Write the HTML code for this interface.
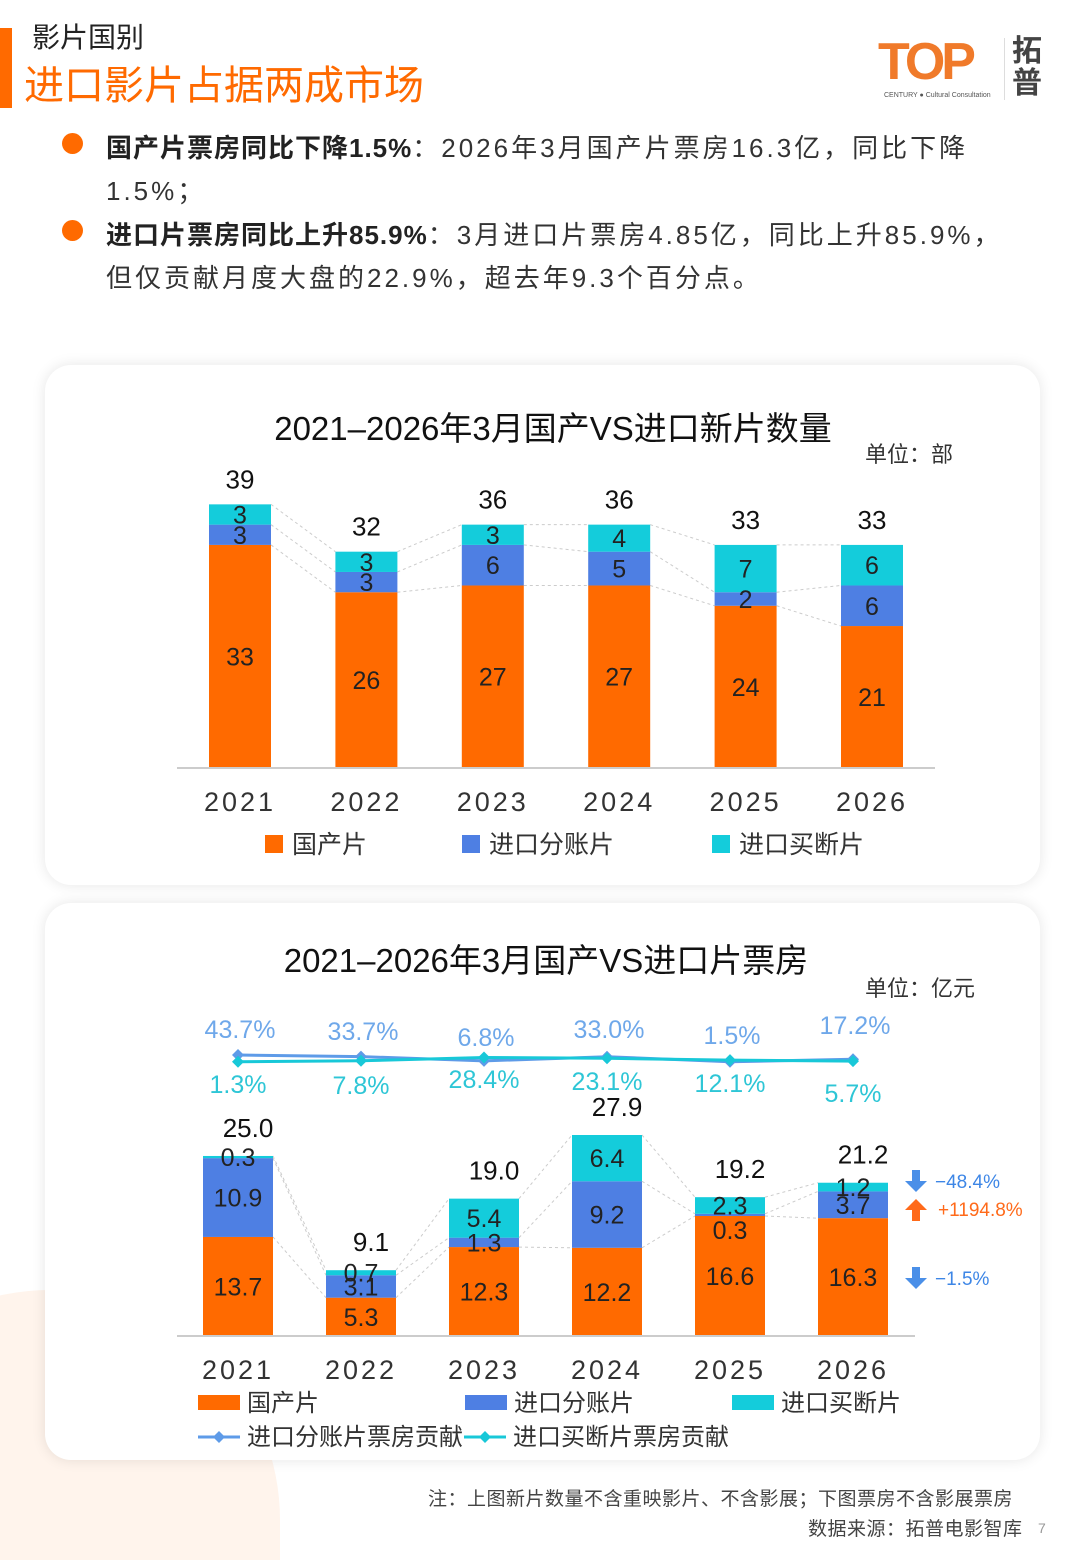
<!DOCTYPE html>
<html><head><meta charset="utf-8">
<style>
html,body{margin:0;padding:0;width:1080px;height:1560px;overflow:hidden;background:#fff}
#wrap{position:relative;width:1080px;height:1560px;overflow:hidden;font-family:"Liberation Sans","Noto Sans CJK SC",sans-serif;color:#222}
.abs{position:absolute}
.card{position:absolute;left:45px;width:995px;background:#fff;border-radius:26px;box-shadow:0 0 14px rgba(0,0,0,0.10)}
.bullet{position:absolute;left:62px;width:21px;height:21px;border-radius:50%;background:#FF6A00}
.bt{position:absolute;left:106px;width:940px;font-size:26px;color:#333;letter-spacing:3px;white-space:nowrap;overflow:hidden}
</style></head><body>
<div id="wrap">
<div class="abs" style="left:-180px;top:1290px;width:460px;height:270px;border-radius:230px 230px 0 0;background:#FFF4EC"></div>
<div class="abs" style="left:0;top:28px;width:12px;height:80px;background:#FF6A00"></div>
<div class="abs" style="left:32px;top:16px;font-size:28px;color:#222">影片国别</div>
<div class="abs" style="left:24px;top:53px;font-size:40px;color:#FF6A00">进口影片占据两成市场</div>
<div class="abs" style="left:878px;top:36px;width:170px;height:70px">
 <div class="abs" style="left:0;top:0;font-size:52px;font-weight:bold;color:#F07A2A;letter-spacing:-4px;line-height:52px">TOP</div>
 <div class="abs" style="left:6px;top:56px;font-size:7px;color:#555;white-space:nowrap">CENTURY ● Cultural Consultation</div>
 <div class="abs" style="left:126px;top:2px;width:1px;height:62px;background:#ddd"></div>
 <div class="abs" style="left:134px;top:0;font-size:30px;font-weight:bold;color:#444;line-height:32px">拓<br>普</div>
</div>
<div class="bullet" style="top:133px"></div>
<div class="bt" style="top:128px"><span style="color:#222;font-weight:600;letter-spacing:1px">国产片票房同比下降1.5%</span>：2026年3月国产片票房16.3亿，同比下降</div>
<div class="bt" style="top:171px">1.5%；</div>
<div class="bullet" style="top:220px"></div>
<div class="bt" style="top:215px"><span style="color:#222;font-weight:600;letter-spacing:1px">进口片票房同比上升85.9%</span>：3月进口片票房4.85亿，同比上升85.9%，</div>
<div class="bt" style="top:258px">但仅贡献月度大盘的22.9%，超去年9.3个百分点。</div>

<div class="card" style="top:365px;height:520px"></div>
<div class="card" style="top:903px;height:557px"></div>

<svg class="abs" style="left:0;top:0" width="1080" height="1560" id="svg" font-family="Liberation Sans, Noto Sans CJK SC, sans-serif"></svg>

<div class="abs" style="left:428px;top:1484px;font-size:19px;color:#444;white-space:nowrap;letter-spacing:0.5px">注：上图新片数量不含重映影片、不含影展；下图票房不含影展票房</div>
<div class="abs" style="left:808px;top:1514px;font-size:19px;color:#444;white-space:nowrap;letter-spacing:0.5px">数据来源：拓普电影智库</div>
<div class="abs" style="left:1038px;top:1520px;font-size:14px;color:#999">7</div>
</div>
<script>
const years=['2021','2022','2023','2024','2025','2026'];
const cntDomestic=[33,26,27,27,24,21];
const cntSplit=[3,3,6,5,2,6];
const cntBuyout=[3,3,3,4,7,6];
const cntTotal=[39,32,36,36,33,33];
const boxDomestic=[13.7,5.3,12.3,12.2,16.6,16.3];
const boxSplit=[10.9,3.1,1.3,9.2,0.3,3.7];
const boxBuyout=[0.3,0.7,5.4,6.4,2.3,1.2];
const boxTotal=['25.0','9.1','19.0','27.9','19.2','21.2'];
const splitShare=[43.7,33.7,6.8,33.0,1.5,17.2];
const buyoutShare=[1.3,7.8,28.4,23.1,12.1,5.7];

const ORANGE='#FF6A00',BLUE='#4E7FE3',TEAL='#14CCDB',LBLUE='#5E9BE8',LTEAL='#18C8D8';
const svg=document.getElementById('svg');
const NS='http://www.w3.org/2000/svg';
function el(tag,attrs,name,txt){const e=document.createElementNS(NS,tag);for(const k in attrs)e.setAttribute(k,attrs[k]);


if(txt!==undefined)e.textContent=txt;svg.appendChild(e);return e;}
function text(x,y,s,size,fill,name,anchor){return el('text',{x:x,y:y,'font-size':size,fill:fill,'text-anchor':anchor||'middle'},name,s);}

/* ---------- chart 1 ---------- */
const c1x=i=>240+i*126.4, c1base=768, c1k=6.76, c1w=62;
const c1y=v=>c1base-v*c1k;
text(553,440,'2021–2026年3月国产VS进口新片数量',33,'#111','chart1-title');
text(865,462,'单位：部',22,'#333','chart1-unit','start');
for(let i=0;i<5;i++){
 const levels=[cntDomestic,cntDomestic.map((d,j)=>d+cntSplit[j]),cntTotal];
 levels.forEach(L=>{el('line',{x1:c1x(i)+c1w/2,y1:c1y(L[i]),x2:c1x(i+1)-c1w/2,y2:c1y(L[i+1]),stroke:'#ccc','stroke-dasharray':'3,3','stroke-width':1},'chart1-connector');});
}
years.forEach((yr,i)=>{
 const x=c1x(i)-c1w/2;const d=cntDomestic[i],s=cntSplit[i],b=cntBuyout[i];
 el('rect',{x:x,y:c1y(d),width:c1w,height:d*c1k,fill:ORANGE},'bar-domestic-'+yr);
 el('rect',{x:x,y:c1y(d+s),width:c1w,height:s*c1k,fill:BLUE},'bar-split-'+yr);
 el('rect',{x:x,y:c1y(d+s+b),width:c1w,height:b*c1k,fill:TEAL},'bar-buyout-'+yr);
 text(c1x(i),c1y(d/2)+9,d,25,'#222','label-domestic-'+yr);
 text(c1x(i),c1y(d+s/2)+9,s,25,'#222','label-split-'+yr);
 text(c1x(i),c1y(d+s+b/2)+9,b,25,'#222','label-buyout-'+yr);
 text(c1x(i),c1y(cntTotal[i])-16,cntTotal[i],26,'#111','label-total-'+yr);
 text(c1x(i),811,yr,27,'#333','x-tick-'+yr).setAttribute('letter-spacing','3');
});
el('line',{x1:177,y1:c1base,x2:935,y2:c1base,stroke:'#ccc','stroke-width':2},'chart1-x-axis');
[[265,ORANGE,'国产片'],[462,BLUE,'进口分账片'],[712,TEAL,'进口买断片']].forEach(([x,c,t],i)=>{
 el('rect',{x:x,y:835,width:18,height:18,fill:c},'chart1-legend-swatch-'+i);
 text(x+27,853,t,25,'#333','chart1-legend-'+i,'start');
});

/* ---------- chart 2 ---------- */
const c2x=i=>238+i*123, c2base=1336, c2k=7.23, c2w=70;
const c2y=v=>c2base-v*c2k;
text(546,972,'2021–2026年3月国产VS进口片票房',33,'#111','chart2-title');
text(865,996,'单位：亿元',22,'#333','chart2-unit','start');
for(let i=0;i<5;i++){
 const lv=[boxDomestic,boxDomestic.map((d,j)=>d+boxSplit[j]),boxDomestic.map((d,j)=>d+boxSplit[j]+boxBuyout[j])];
 lv.forEach(L=>{el('line',{x1:c2x(i)+c2w/2,y1:c2y(L[i]),x2:c2x(i+1)-c2w/2,y2:c2y(L[i+1]),stroke:'#ccc','stroke-dasharray':'3,3','stroke-width':1},'chart2-connector');});
}
years.forEach((yr,i)=>{
 const x=c2x(i)-c2w/2;const d=boxDomestic[i],s=boxSplit[i],b=boxBuyout[i];
 el('rect',{x:x,y:c2y(d),width:c2w,height:d*c2k,fill:ORANGE},'bar-box-domestic-'+yr);
 el('rect',{x:x,y:c2y(d+s),width:c2w,height:s*c2k,fill:BLUE},'bar-box-split-'+yr);
 el('rect',{x:x,y:c2y(d+s+b),width:c2w,height:b*c2k,fill:TEAL},'bar-box-buyout-'+yr);
 text(c2x(i),c2y(d/2)+9,d.toFixed(1),25,'#222','label-box-domestic-'+yr);
 let sy=c2y(d+s/2)+9, by=c2y(d+s+b/2)+9;
 if(s*c2k<5 && b*c2k>=15) sy=c2y(d)+23;
 text(c2x(i),sy,s.toFixed(1),25,'#222','label-box-split-'+yr);
 text(c2x(i),by,b.toFixed(1),25,'#222','label-box-buyout-'+yr);
 text(c2x(i)+10,c2y(d+s+b)-19,boxTotal[i],26,'#111','label-box-total-'+yr);
 text(c2x(i),1379,yr,27,'#333','x-tick-box-'+yr).setAttribute('letter-spacing','3');
});
el('line',{x1:177,y1:c2base,x2:915,y2:c2base,stroke:'#ccc','stroke-width':2},'chart2-x-axis');
const shY=v=>1062-v*0.16;
function line(arr,color,name){
 el('polyline',{points:arr.map((v,i)=>c2x(i)+','+shY(v)).join(' '),fill:'none',stroke:color,'stroke-width':3},name);
 arr.forEach((v,i)=>{const cx=c2x(i),cy=shY(v);el('polygon',{points:`${cx},${cy-6} ${cx+6},${cy} ${cx},${cy+6} ${cx-6},${cy}`,fill:color},name+'-point-'+years[i]);});
}
line(splitShare,LBLUE,'line-split-share');
line(buyoutShare,LTEAL,'line-buyout-share');
const upY=[1038,1040,1046,1038,1044,1034],dnY=[1093,1094,1088,1090,1092,1102];
splitShare.forEach((v,i)=>text(c2x(i)+2,upY[i],v.toFixed(1)+'%',25,'#6FA8EA','label-split-share-'+years[i]));
buyoutShare.forEach((v,i)=>text(c2x(i),dnY[i],v.toFixed(1)+'%',25,'#2EC6D6','label-buyout-share-'+years[i]));
function arrow(x,y,up,color,name){const p=up?`${x},${y-11} ${x+11},${y} ${x+4},${y} ${x+4},${y+11} ${x-4},${y+11} ${x-4},${y} ${x-11},${y}`:`${x},${y+11} ${x+11},${y} ${x+4},${y} ${x+4},${y-11} ${x-4},${y-11} ${x-4},${y} ${x-11},${y}`;el('polygon',{points:p,fill:color},name);}
arrow(916,1181,false,'#4A8FE8','arrow-split-yoy');text(935,1188,'−48.4%',19,'#3D86E6','label-split-yoy','start');
arrow(916,1210,true,'#FF6A1A','arrow-buyout-yoy');text(938,1216,'+1194.8%',19,'#FF6A1A','label-buyout-yoy','start');
arrow(916,1278,false,'#4A8FE8','arrow-domestic-yoy');text(935,1285,'−1.5%',19,'#3D86E6','label-domestic-yoy','start');
[[198,ORANGE,'国产片'],[465,BLUE,'进口分账片'],[732,TEAL,'进口买断片']].forEach(([x,c,t],i)=>{
 el('rect',{x:x,y:1395,width:42,height:15,fill:c},'chart2-legend-swatch-'+i);
 text(x+49,1411,t,24,'#333','chart2-legend-'+i,'start');
});
[[198,LBLUE,'进口分账片票房贡献'],[464,LTEAL,'进口买断片票房贡献']].forEach(([x,c,t],i)=>{
 el('line',{x1:x,y1:1437,x2:x+42,y2:1437,stroke:c,'stroke-width':3},'chart2-line-legend-swatch-'+i);
 el('polygon',{points:`${x+21},${1431} ${x+27},${1437} ${x+21},${1443} ${x+15},${1437}`,fill:c},'chart2-line-legend-marker-'+i);
 text(x+49,1445,t,24,'#333','chart2-line-legend-'+i,'start');
});
</script>
</body></html>
